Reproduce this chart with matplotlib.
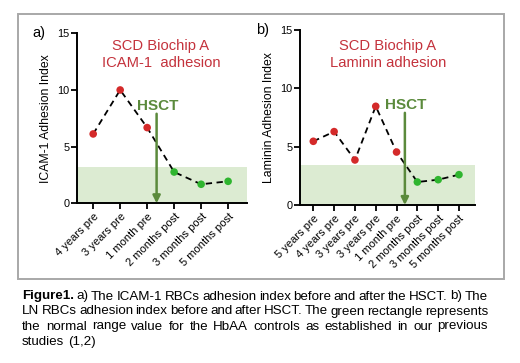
import matplotlib
matplotlib.use("Agg")
import matplotlib.pyplot as plt
from matplotlib.patches import Rectangle

plt.rcParams['font.family'] = ['Liberation Sans', 'DejaVu Sans']

# ---- data ----
cats_a = ["4 years pre", "3 years pre", "1 month pre", "2 months post", "3 months post", "5 months post"]
vals_a = [6.12, 10.0, 6.68, 2.76, 1.68, 1.94]
post_a = [False, False, False, True, True, True]
normal_a = 3.24
hsct_a = 2.35

cats_b = ["5 years pre", "4 years pre", "3 years pre", "3 years pre", "1 month pre",
          "2 months post", "3 months post", "5 months post"]
vals_b = [5.46, 6.29, 3.86, 8.46, 4.54, 1.97, 2.17, 2.6]
post_b = [False, False, False, False, False, True, True, True]
normal_b = 3.46
hsct_b = 4.4

yticks = [0, 5, 10, 15]

W, H = 520, 363
RED = '#d42a2a'
GREEN_PT = '#2fb52f'
ARROW = '#5b8a3c'
TITLE = '#c4323c'
SPAN = '#dcebd2'

fig = plt.figure(figsize=(W / 100, H / 100), dpi=100)


def px(x, y):
    return x / W, 1 - y / H


def make_axes(l, t, r, b):
    return fig.add_axes([l / W, 1 - b / H, (r - l) / W, (b - t) / H])


# outer frame
fig.patches.append(Rectangle(px(18, 279), (504 - 18) / W, (279 - 14) / H,
                             transform=fig.transFigure, fill=False,
                             edgecolor='#a8a8a8', lw=1.4))


def panel(ax, cats, vals, post, normal, hsct, xlim, ylabel):
    x = list(range(len(cats)))
    ax.set_xlim(*xlim)
    ax.set_ylim(0, 15)
    ax.axhspan(0, normal, color=SPAN, lw=0, zorder=0)
    ax.plot(x, vals, ls=(0, (3.5, 2.5)), color='black', lw=1.3, zorder=2)
    cols = [GREEN_PT if p else RED for p in post]
    ax.scatter(x, vals, s=30, c=cols, zorder=3, edgecolors='none')
    ax.set_yticks(yticks)
    ax.set_xticks(x)
    ax.set_xticklabels(cats, rotation=45, ha='right', rotation_mode='anchor', fontsize=8)
    ax.tick_params(axis='y', labelsize=7.8, length=4, width=1.3, direction='out', pad=1.5)
    ax.tick_params(axis='x', length=4, width=1.3, direction='out', pad=2)
    for s in ['top', 'right']:
        ax.spines[s].set_visible(False)
    for s in ['left', 'bottom']:
        ax.spines[s].set_linewidth(1.4)
    ax.set_ylabel(ylabel, fontsize=8.8, labelpad=4)
    ax.annotate('', xy=(hsct, 0.0), xytext=(hsct, 7.9),
                arrowprops=dict(arrowstyle='-|>', color=ARROW, lw=1.8, mutation_scale=11,
                                shrinkA=0, shrinkB=0), zorder=4)
    ax.text(hsct + 0.05, 8.55, 'HSCT', color=ARROW, fontsize=11, fontweight='bold',
            ha='center', va='center', zorder=5)
    ax.patch.set_alpha(0)


axa = make_axes(77, 33.3, 247, 203.3)
panel(axa, cats_a, vals_a, post_a, normal_a, hsct_a, (-0.6, 5.7), 'ICAM-1 Adhesion Index')
axb = make_axes(300, 30, 475, 205)
panel(axb, cats_b, vals_b, post_b, normal_b, hsct_b, (-0.64, 7.77), 'Laminin Adhesion Index')

# titles
for cx, lines in [(161, ['SCD Biochip A', 'ICAM-1  adhesion']), (388, ['SCD Biochip A', 'Laminin adhesion'])]:
    fig.text(*px(cx, 46), lines[0], color=TITLE, fontsize=10.6, ha='center', va='center')
    fig.text(*px(cx, 63), lines[1], color=TITLE, fontsize=10.6, ha='center', va='center')

fig.text(*px(32, 33), 'a)', fontsize=10.5, ha='left', va='center')
fig.text(*px(256, 30), 'b)', fontsize=10.5, ha='left', va='center')

# caption (justified)
cap_lines = [
    [("Figure1.", 'bold'), ("a)", 'normal'), ("The", 'normal'), ("ICAM-1", 'normal'), ("RBCs", 'normal'),
     ("adhesion", 'normal'), ("index", 'normal'), ("before", 'normal'), ("and", 'normal'),
     ("after", 'normal'), ("the", 'normal'), ("HSCT.", 'normal'), ("b)", 'normal'), ("The", 'normal')],
    [(w, 'normal') for w in "LN RBCs adhesion index before and after HSCT. The green rectangle represents".split()],
    [(w, 'normal') for w in "the normal range value for the HbAA controls as established in our previous".split()],
    [(w, 'normal') for w in "studies (1,2)".split()],
]
cap_y = [296.5, 311.5, 326.5, 342]
x0, x1 = 22, 488
CAP_FS = 9.6
fig.canvas.draw()
renderer = fig.canvas.get_renderer()
for i, (words, y) in enumerate(zip(cap_lines, cap_y)):
    texts = []
    for w, wt in words:
        t = fig.text(*px(x0, y), w, fontsize=CAP_FS, fontweight=wt, ha='left', va='center')
        texts.append(t)
    widths = [t.get_window_extent(renderer).width for t in texts]
    if i < len(cap_lines) - 1:
        gap = (x1 - x0 - sum(widths)) / (len(texts) - 1)
    else:
        sp = fig.text(0, 0, 'a a', fontsize=CAP_FS)
        sa = fig.text(0, 0, 'aa', fontsize=CAP_FS)
        gap = sp.get_window_extent(renderer).width - sa.get_window_extent(renderer).width
        sp.remove(); sa.remove()
    cx = x0
    for t, wd in zip(texts, widths):
        t.set_position(px(cx, y))
        cx += wd + gap

fig.savefig('out.png', dpi=100)
